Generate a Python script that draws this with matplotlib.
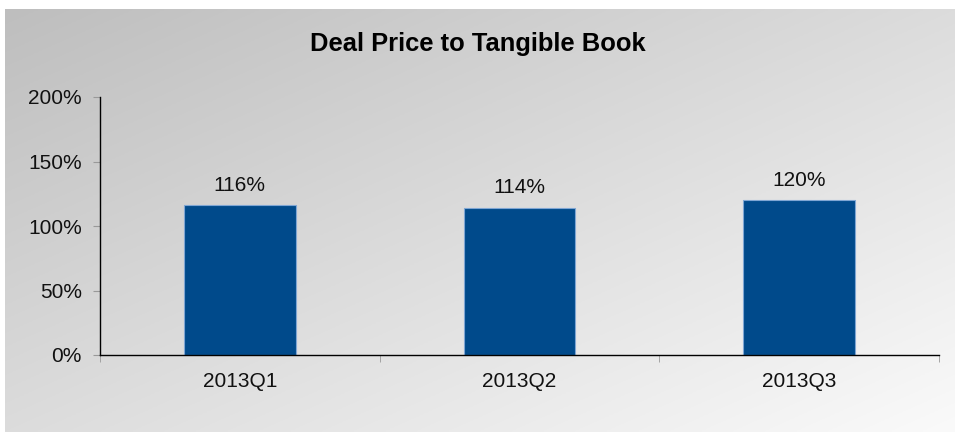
import numpy as np
import matplotlib
matplotlib.use('Agg')
import matplotlib.pyplot as plt
from matplotlib.ticker import FuncFormatter, FixedLocator

plt.rcParams['font.family'] = ['Liberation Sans', 'DejaVu Sans']

# Dati
quarters = ['2013Q1', '2013Q2', '2013Q3']
price_to_tbv = [1.16, 1.14, 1.20]
title = 'Deal Price to Tangible Book'

fig = plt.figure(figsize=(9.55, 4.32), dpi=100, facecolor='white')

# Sfondo con gradiente diagonale
bg = fig.add_axes([5 / 955, 0, 950 / 955, 423 / 432], zorder=0)
u = np.linspace(0, 1, 400)
v = np.linspace(0, 1, 200)
U, V = np.meshgrid(u, v)
t = 0.5 * (U + V)
grey = (190 + (250 - 190) * t) / 255
bg.imshow(np.dstack([grey, grey, grey]), aspect='auto', extent=[0, 1, 1, 0])
bg.axis('off')

ax = fig.add_axes([100 / 955, 1 - 355 / 432, 839 / 955, 258 / 432], zorder=1)
ax.patch.set_alpha(0)

x = np.arange(len(quarters))
bars = ax.bar(x, price_to_tbv, width=0.40, color='#004A8B', edgecolor='#7FA6D4', linewidth=0.8)

for xi, val in zip(x, price_to_tbv):
    ax.annotate(f"{val * 100:.0f}%", (xi, val), xytext=(0, 20), textcoords='offset pixels',
                ha='center', va='center', fontsize=15, color='#111111')

ax.set_xlim(-0.5, len(quarters) - 0.5)
ax.set_ylim(0, 2)
ax.set_yticks([0, 0.5, 1.0, 1.5, 2.0])
ax.yaxis.set_major_formatter(FuncFormatter(lambda y, _: f"{y * 100:.0f}%"))
ax.set_xticks(x)
ax.set_xticklabels(quarters)
ax.xaxis.set_minor_locator(FixedLocator(np.arange(len(quarters) + 1) - 0.5))

ax.tick_params(axis='x', which='major', length=0, pad=12, labelsize=15, labelcolor='#111111')
ax.tick_params(axis='x', which='minor', length=5, color='#999999', direction='out')
ax.tick_params(axis='y', length=5, color='#999999', pad=8, labelsize=15, labelcolor='#111111')

for s in ['top', 'right']:
    ax.spines[s].set_visible(False)
ax.spines['left'].set_color('black')
ax.spines['bottom'].set_color('black')
ax.spines['left'].set_linewidth(1.0)
ax.spines['bottom'].set_linewidth(1.0)

fig.text(0.5, 1 - 44 / 432, title, ha='center', va='center', fontsize=18.4, fontweight='bold', zorder=3)

fig.savefig('out.png', dpi=100, facecolor='white')
plt.close()
